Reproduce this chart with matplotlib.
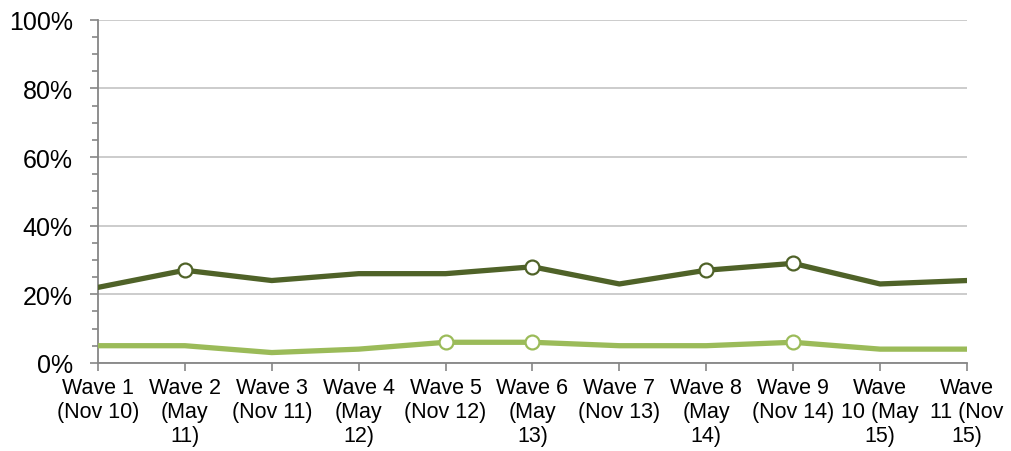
import numpy as np
from matplotlib import pyplot as plt
from matplotlib.ticker import MultipleLocator, FuncFormatter

plt.rcParams['font.family'] = ['Liberation Sans', 'DejaVu Sans']

# Chart data
waves = ['Wave 1\n(Nov 10)', 'Wave 2\n(May\n11)', 'Wave 3\n(Nov 11)', 'Wave 4\n(May\n12)',
         'Wave 5\n(Nov 12)', 'Wave 6\n(May\n13)', 'Wave 7\n(Nov 13)', 'Wave 8\n(May\n14)',
         'Wave 9\n(Nov 14)', 'Wave\n10 (May\n15)', 'Wave\n11 (Nov\n15)']
dark_values = [22, 27, 24, 26, 26, 28, 23, 27, 29, 23, 24]
light_values = [5, 5, 3, 4, 6, 6, 5, 5, 6, 4, 4]
dark_marked = [1, 5, 7, 8]
light_marked = [4, 5, 8]

dark = '#4F6228'
light = '#9BBB59'
axis_grey = '#868686'

fig = plt.figure(figsize=(10.12, 4.52), dpi=100)
ax = fig.add_axes([0.0968, 0.195, 0.8587, 0.759])

x = np.arange(len(waves))
ax.plot(x, dark_values, color=dark, lw=3.8, marker='o', markevery=dark_marked,
        markersize=10, markerfacecolor='white', markeredgecolor=dark, markeredgewidth=1.6,
        solid_joinstyle='round', zorder=3)
ax.plot(x, light_values, color=light, lw=3.8, marker='o', markevery=light_marked,
        markersize=10, markerfacecolor='white', markeredgecolor=light, markeredgewidth=1.6,
        solid_joinstyle='round', zorder=3)

ax.set_xlim(0, len(waves) - 1)
ax.set_ylim(0, 100)
ax.set_xticks(x)
ax.set_xticklabels(waves, fontsize=15.5, linespacing=1.2)
ax.yaxis.set_major_locator(MultipleLocator(20))
ax.yaxis.set_minor_locator(MultipleLocator(5))
ax.yaxis.set_major_formatter(FuncFormatter(lambda v, p: '%d%%' % v))
ax.tick_params(axis='y', which='major', labelsize=18, length=6, width=1.2, color=axis_grey, pad=12)
ax.tick_params(axis='y', which='minor', length=4, width=1.2, color=axis_grey)
ax.tick_params(axis='x', length=6, width=1.2, color=axis_grey, pad=4)

ax.grid(axis='y', which='major', color='#BFBFBF', lw=1.1)
ax.set_axisbelow(True)
for side in ['top', 'right']:
    ax.spines[side].set_visible(False)
for side in ['left', 'bottom']:
    ax.spines[side].set_color(axis_grey)
    ax.spines[side].set_linewidth(1.3)
ax.spines['bottom'].set_zorder(2)

plt.savefig('out.png', dpi=100)
